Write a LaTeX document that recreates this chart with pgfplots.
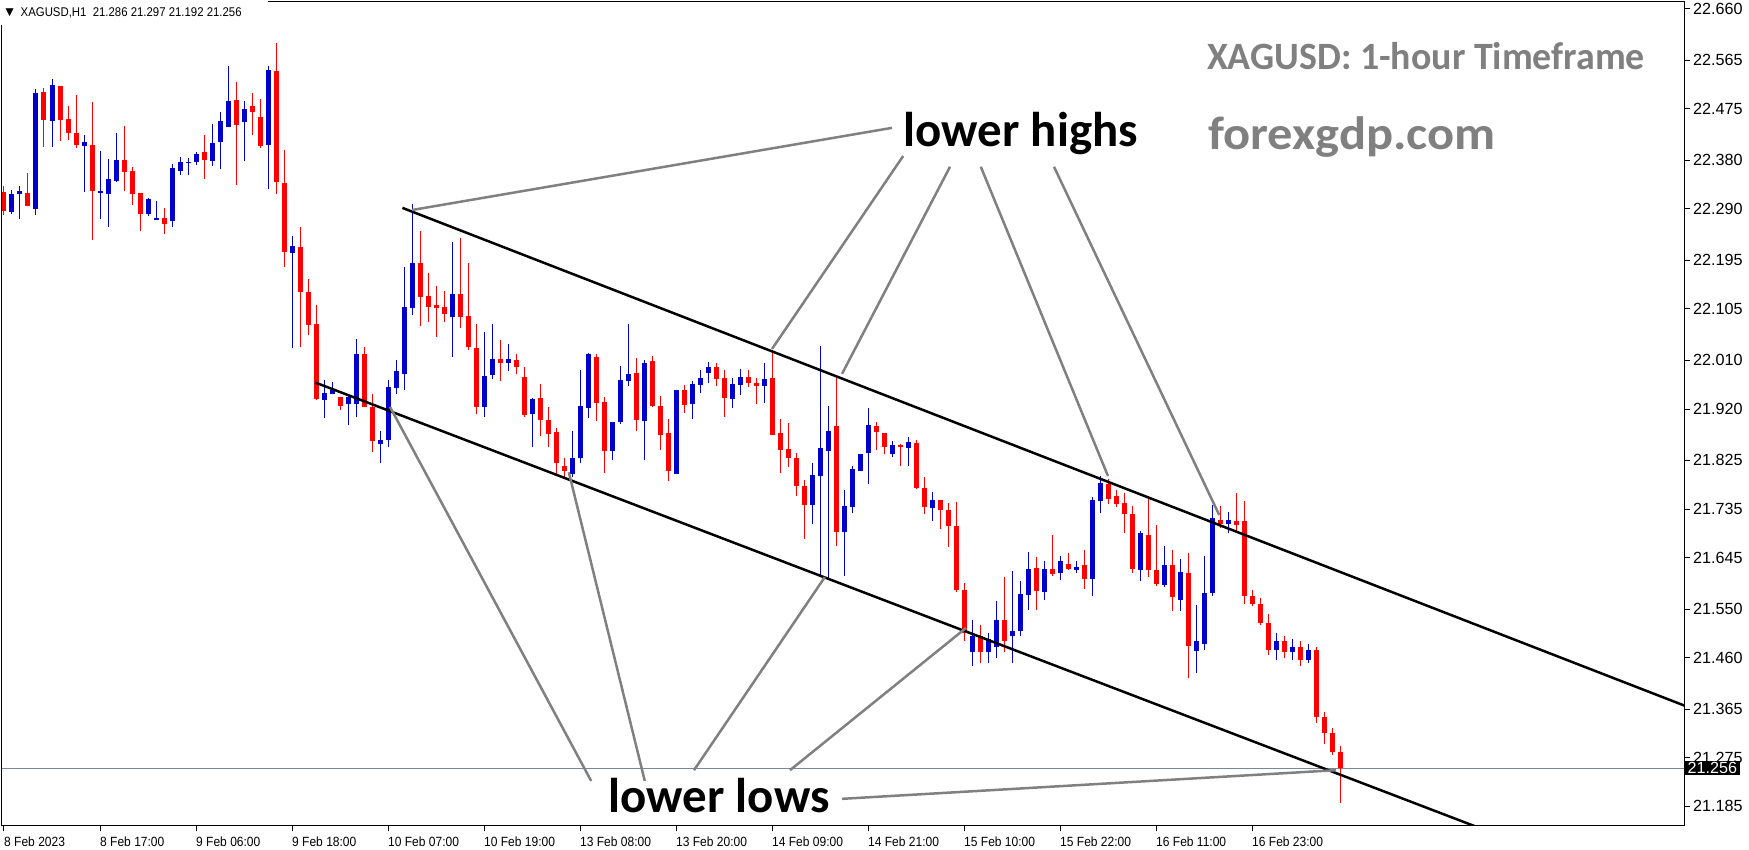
\documentclass[border=0pt]{standalone}
\usepackage{fontspec}
\setmainfont{Liberation Sans}
\newfontfamily\mtfont[FakeStretch=0.9]{Liberation Sans}
\newfontfamily\pxfont{Liberation Sans}
\newfontfamily\annfont{Carlito}
\newfontfamily\titlefont[FakeStretch=0.98]{Carlito}
\newfontfamily\sitefont[FakeStretch=1.08]{Carlito}
\newfontfamily\symfont{DejaVu Sans}
\usepackage{pgfplots}
\usepackage{pgfplotstable}
\pgfplotsset{compat=1.18}

\definecolor{mtred}{HTML}{FF0000}
\definecolor{mtblue}{HTML}{0000CC}
\definecolor{anngray}{HTML}{808080}
\definecolor{pline}{HTML}{778899}

% XAGUSD H1 candles: index, open, high, low, close
\pgfplotstableread{
i o h l c
0 22.321 22.333 22.278 22.287
1 22.285 22.325 22.281 22.318
2 22.318 22.333 22.272 22.323
3 22.320 22.356 22.296 22.296
4 22.290 22.511 22.278 22.504
5 22.506 22.513 22.405 22.455
6 22.452 22.530 22.405 22.519
7 22.517 22.517 22.416 22.455
8 22.456 22.480 22.418 22.431
9 22.430 22.501 22.403 22.409
10 22.407 22.426 22.321 22.414
11 22.408 22.488 22.233 22.324
12 22.320 22.397 22.272 22.323
13 22.318 22.382 22.257 22.345
14 22.342 22.430 22.340 22.380
15 22.380 22.443 22.324 22.359
16 22.360 22.368 22.298 22.318
17 22.320 22.320 22.250 22.280
18 22.281 22.310 22.277 22.308
19 22.270 22.305 22.270 22.273
20 22.273 22.292 22.243 22.263
21 22.267 22.373 22.257 22.366
22 22.361 22.386 22.353 22.377
23 22.375 22.384 22.352 22.377
24 22.376 22.395 22.371 22.392
25 22.395 22.427 22.346 22.381
26 22.379 22.447 22.370 22.412
27 22.414 22.469 22.363 22.453
28 22.442 22.554 22.442 22.490
29 22.491 22.525 22.335 22.446
30 22.450 22.490 22.378 22.475
31 22.480 22.504 22.426 22.470
32 22.460 22.493 22.403 22.407
33 22.409 22.554 22.326 22.547
34 22.545 22.597 22.318 22.339
35 22.338 22.399 22.183 22.211
36 22.209 22.240 22.032 22.221
37 22.220 22.257 22.034 22.137
38 22.136 22.160 22.057 22.076
39 22.077 22.112 21.937 21.939
40 21.937 21.974 21.903 21.950
41 21.947 21.970 21.947 21.955
42 21.942 21.942 21.919 21.926
43 21.930 21.948 21.890 21.943
44 21.930 22.049 21.905 22.022
45 22.022 22.035 21.924 21.924
46 21.924 21.948 21.840 21.860
47 21.855 21.880 21.820 21.862
48 21.862 21.974 21.850 21.961
49 21.959 22.011 21.948 21.990
50 21.985 22.183 21.956 22.109
51 22.107 22.299 22.094 22.190
52 22.190 22.249 22.074 22.128
53 22.129 22.171 22.081 22.109
54 22.112 22.147 22.054 22.107
55 22.108 22.138 22.081 22.096
56 22.091 22.229 22.017 22.133
57 22.133 22.236 22.070 22.091
58 22.092 22.190 22.029 22.035
59 22.033 22.077 21.911 21.923
60 21.923 22.062 21.906 21.981
61 21.983 22.077 21.976 22.013
62 22.013 22.048 21.971 22.006
63 22.006 22.040 21.991 22.013
64 22.011 22.022 21.985 21.998
65 21.979 21.998 21.906 21.908
66 21.910 21.940 21.850 21.938
67 21.940 21.966 21.870 21.899
68 21.900 21.924 21.850 21.874
69 21.878 21.885 21.800 21.820
70 21.815 21.830 21.795 21.805
71 21.800 21.879 21.795 21.830
72 21.830 21.992 21.820 21.926
73 21.921 22.024 21.904 22.022
74 22.016 22.022 21.898 21.932
75 21.933 21.942 21.802 21.843
76 21.843 21.896 21.826 21.896
77 21.896 21.999 21.892 21.974
78 21.972 22.077 21.963 21.985
79 21.987 22.014 21.880 21.900
80 21.898 22.011 21.825 22.005
81 22.009 22.018 21.923 21.925
82 21.926 21.944 21.845 21.871
83 21.876 21.902 21.786 21.806
84 21.800 21.955 21.800 21.955
85 21.955 21.964 21.913 21.928
86 21.930 21.972 21.902 21.966
87 21.964 21.992 21.950 21.977
88 21.987 22.007 21.969 21.998
89 21.998 22.005 21.963 21.976
90 21.977 21.992 21.906 21.941
91 21.939 21.977 21.921 21.966
92 21.965 21.994 21.946 21.979
93 21.979 21.992 21.961 21.969
94 21.968 21.977 21.930 21.963
95 21.963 22.005 21.932 21.976
96 21.977 22.030 21.871 21.871
97 21.876 21.902 21.801 21.845
98 21.846 21.894 21.812 21.830
99 21.830 21.839 21.760 21.778
100 21.778 21.789 21.680 21.743
101 21.743 21.820 21.708 21.798
102 21.797 22.037 21.610 21.848
103 21.843 21.926 21.604 21.879
104 21.889 21.981 21.667 21.693
105 21.693 21.770 21.612 21.741
106 21.739 21.815 21.727 21.809
107 21.806 21.837 21.806 21.837
108 21.838 21.922 21.782 21.891
109 21.889 21.896 21.845 21.878
110 21.876 21.876 21.836 21.850
111 21.836 21.861 21.832 21.853
112 21.853 21.855 21.815 21.850
113 21.848 21.868 21.815 21.859
114 21.857 21.863 21.772 21.774
115 21.774 21.794 21.726 21.739
116 21.737 21.767 21.713 21.752
117 21.752 21.752 21.698 21.733
118 21.733 21.746 21.665 21.704
119 21.704 21.748 21.582 21.585
120 21.585 21.598 21.490 21.505
121 21.470 21.530 21.445 21.500
122 21.500 21.520 21.450 21.470
123 21.470 21.505 21.450 21.495
124 21.480 21.565 21.460 21.530
125 21.530 21.609 21.470 21.490
126 21.500 21.620 21.450 21.510
127 21.510 21.602 21.500 21.578
128 21.576 21.656 21.548 21.624
129 21.626 21.646 21.548 21.583
130 21.581 21.639 21.567 21.624
131 21.624 21.687 21.611 21.615
132 21.616 21.648 21.604 21.639
133 21.633 21.654 21.623 21.624
134 21.623 21.639 21.616 21.628
135 21.631 21.659 21.588 21.606
136 21.606 21.757 21.575 21.752
137 21.750 21.796 21.727 21.783
138 21.781 21.791 21.745 21.754
139 21.759 21.770 21.738 21.745
140 21.746 21.765 21.691 21.725
141 21.726 21.741 21.616 21.625
142 21.623 21.695 21.602 21.691
143 21.687 21.759 21.610 21.623
144 21.622 21.706 21.593 21.597
145 21.595 21.667 21.591 21.632
146 21.632 21.659 21.547 21.573
147 21.567 21.643 21.547 21.619
148 21.617 21.654 21.423 21.481
149 21.473 21.558 21.432 21.490
150 21.486 21.648 21.475 21.580
151 21.580 21.742 21.575 21.718
152 21.715 21.740 21.700 21.708
153 21.708 21.730 21.690 21.715
154 21.712 21.765 21.690 21.705
155 21.712 21.750 21.560 21.575
156 21.575 21.585 21.555 21.560
157 21.560 21.570 21.520 21.525
158 21.525 21.540 21.465 21.475
159 21.475 21.505 21.455 21.490
160 21.490 21.500 21.460 21.470
161 21.470 21.495 21.455 21.480
162 21.480 21.490 21.445 21.455
163 21.455 21.485 21.450 21.475
164 21.475 21.480 21.340 21.350
165 21.350 21.360 21.300 21.320
166 21.320 21.330 21.280 21.286
167 21.286 21.297 21.192 21.256
}\bars

\begin{document}
\begin{tikzpicture}
\path[use as bounding box] (-0.2mm,-2.4mm) rectangle (174.7mm,82.6mm);
\begin{axis}[
  at={(0,0)}, anchor=south west,
  width=168.2mm, height=82.4mm, scale only axis,
  xmin=-0.25, xmax=210, ymin=21.1488, ymax=22.6728,
  clip mode=individual,
  axis line style={line width=0.1mm},
  tick style={line width=0.1mm, black},
  tick align=outside, major tick length=0.55mm,
  xtick pos=left, ytick pos=right, yticklabel pos=right,
  xtick={0,12,24,36,48,60,72,84,96,108,120,132,144,156},
  xticklabels={8 Feb 2023,8 Feb 17:00,9 Feb 06:00,9 Feb 18:00,10 Feb 07:00,10 Feb 19:00,13 Feb 08:00,13 Feb 20:00,14 Feb 09:00,14 Feb 21:00,15 Feb 10:00,15 Feb 22:00,16 Feb 11:00,16 Feb 23:00},
  ytick={21.185,21.275,21.365,21.460,21.550,21.645,21.735,21.825,21.920,22.010,22.105,22.195,22.290,22.380,22.475,22.565,22.660},
  yticklabels={21.185,21.275,21.365,21.460,21.550,21.645,21.735,21.825,21.920,22.010,22.105,22.195,22.290,22.380,22.475,22.565,22.660},
  xticklabel style={font=\mtfont\fontsize{3.8pt}{4pt}\selectfont, anchor=north west, inner sep=0pt, xshift=-0.05mm, yshift=-0.5mm},
  yticklabel style={font=\pxfont\fontsize{4.6pt}{5pt}\selectfont, anchor=west, inner sep=0pt, xshift=0.3mm},
]
% current price line
\addplot[pline, line width=0.1mm, forget plot] coordinates {(-1,21.256) (211,21.256)};

% wicks
\addplot[draw=none, mark=none, forget plot,
  restrict expr to domain={\thisrow{c}-\thisrow{o}}{0:10},
  error bars/.cd, y dir=plus, y explicit, error mark=none,
  error bar style={draw=mtblue, line width=0.1mm, solid}]
  table[x=i, y=l, y error expr=\thisrow{h}-\thisrow{l}] {\bars};
\addplot[draw=none, mark=none, forget plot,
  restrict expr to domain={\thisrow{c}-\thisrow{o}}{-10:-0.0000001},
  error bars/.cd, y dir=plus, y explicit, error mark=none,
  error bar style={draw=mtred, line width=0.1mm, solid}]
  table[x=i, y=l, y error expr=\thisrow{h}-\thisrow{l}] {\bars};
% bodies
\addplot[draw=none, mark=none, forget plot,
  restrict expr to domain={\thisrow{c}-\thisrow{o}}{0:10},
  error bars/.cd, y dir=plus, y explicit, error mark=none,
  error bar style={draw=mtblue, line width=0.5mm, solid}]
  table[x=i, y expr={min(\thisrow{o},\thisrow{c})}, y error expr={max(abs(\thisrow{c}-\thisrow{o}),0.002)}] {\bars};
\addplot[draw=none, mark=none, forget plot,
  restrict expr to domain={\thisrow{c}-\thisrow{o}}{-10:-0.0000001},
  error bars/.cd, y dir=plus, y explicit, error mark=none,
  error bar style={draw=mtred, line width=0.5mm, solid}]
  table[x=i, y expr={min(\thisrow{o},\thisrow{c})}, y error expr={max(abs(\thisrow{c}-\thisrow{o}),0.002)}] {\bars};

% channel
\addplot[black, line width=0.25mm, forget plot] coordinates {(49.8,22.292) (215,21.343)};
\addplot[black, line width=0.25mm, forget plot] coordinates {(38.9,21.969) (200,21.057)};

% pointers
\addplot[anngray, line width=0.25mm, forget plot] coordinates {(111,22.440) (51,22.288)};
\addplot[anngray, line width=0.25mm, forget plot] coordinates {(112.4,22.388) (96,22.031)};
\addplot[anngray, line width=0.25mm, forget plot] coordinates {(118.25,22.368) (104.75,21.985)};
\addplot[anngray, line width=0.25mm, forget plot] coordinates {(122.1,22.368) (138,21.796)};
\addplot[anngray, line width=0.25mm, forget plot] coordinates {(131.25,22.368) (151.9,21.724)};
\addplot[anngray, line width=0.25mm, forget plot] coordinates {(73.4,21.232) (48.25,21.924)};
\addplot[anngray, line width=0.25mm, forget plot] coordinates {(80.1,21.232) (70.6,21.803)};
\addplot[anngray, line width=0.25mm, forget plot] coordinates {(86.25,21.252) (102.6,21.609)};
\addplot[anngray, line width=0.25mm, forget plot] coordinates {(98.25,21.252) (120.25,21.515)};
\addplot[anngray, line width=0.25mm, forget plot] coordinates {(104.75,21.199) (166.5,21.252)};

\node[font=\annfont\bfseries\fontsize{13.9pt}{16pt}\selectfont] at (axis cs:127.1,22.429) {lower highs};
\node[font=\annfont\bfseries\fontsize{13.9pt}{16pt}\selectfont] at (axis cs:89.4,21.206) {lower lows};
\node[text=anngray, font=\titlefont\bfseries\fontsize{11pt}{13pt}\selectfont] at (axis cs:177.75,22.573) {XAGUSD: 1-hour Timeframe};
\node[text=anngray, font=\sitefont\bfseries\fontsize{13.3pt}{15pt}\selectfont] at (axis cs:168.5,22.423) {forexgdp.com};
\coordinate (pbox) at (axis cs:210,21.256);
\end{axis}
\node[fill=black, text=white, anchor=west, inner xsep=0.25mm, inner ysep=0.15mm,
  font=\pxfont\fontsize{4.6pt}{5pt}\selectfont] at ([xshift=0.05mm]pbox) {21.256};
\fill[white] (-0.2mm,80.1mm) rectangle (26.6mm,82.6mm);
\node[anchor=west, inner sep=0pt, font=\symfont\fontsize{3pt}{3pt}\selectfont] at (0.3mm,81.3mm) {▼};
\node[anchor=west, inner sep=0pt, font=\mtfont\fontsize{3.6pt}{4pt}\selectfont] at (1.8mm,81.3mm) {XAGUSD,H1\ \ 21.286 21.297 21.192 21.256};
\end{tikzpicture}
\end{document}
